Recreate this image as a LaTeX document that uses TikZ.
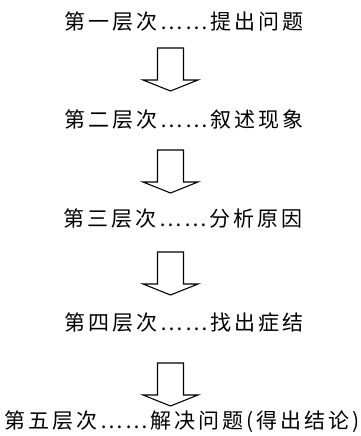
\documentclass[tikz,border=0pt]{standalone}
\usepackage{fontspec}
\newfontfamily\cjk[LetterSpace=14]{Noto Sans CJK SC}
\tikzset{
  lvl/.style={font=\cjk\fontsize{21pt}{24pt}\selectfont, inner sep=0pt, anchor=center},
  hollow/.style={draw=black, line width=1.1pt, fill=white, line join=miter}
}
\newcommand{\blockarr}[2]{% x, ytop
  \draw[hollow] ({#1-13},{#2}) -- ({#1+13},{#2}) -- ({#1+13},{#2+32}) -- ({#1+27.5},{#2+32})
    -- ({#1},{#2+43}) -- ({#1-27.5},{#2+32}) -- ({#1-13},{#2+32}) -- cycle;}
\begin{document}
\begin{tikzpicture}[x=1pt,y=-1pt]
\useasboundingbox (0,0) rectangle (361,436);
\node[lvl] (t1) at (184,22) {第一层次……提出问题};
\node[lvl] (t2) at (184,120) {第二层次……叙述现象};
\node[lvl] (t3) at (183,219) {第三层次……分析原因};
\node[lvl] (t4) at (184,323) {第四层次……找出症结};
\node[lvl] (t5) at (182,422) {第五层次……解决问题(得出结论)};
\blockarr{170.5}{48}
\blockarr{170.5}{150}
\blockarr{170.5}{252}
\blockarr{170.5}{363}
\end{tikzpicture}
\end{document}
